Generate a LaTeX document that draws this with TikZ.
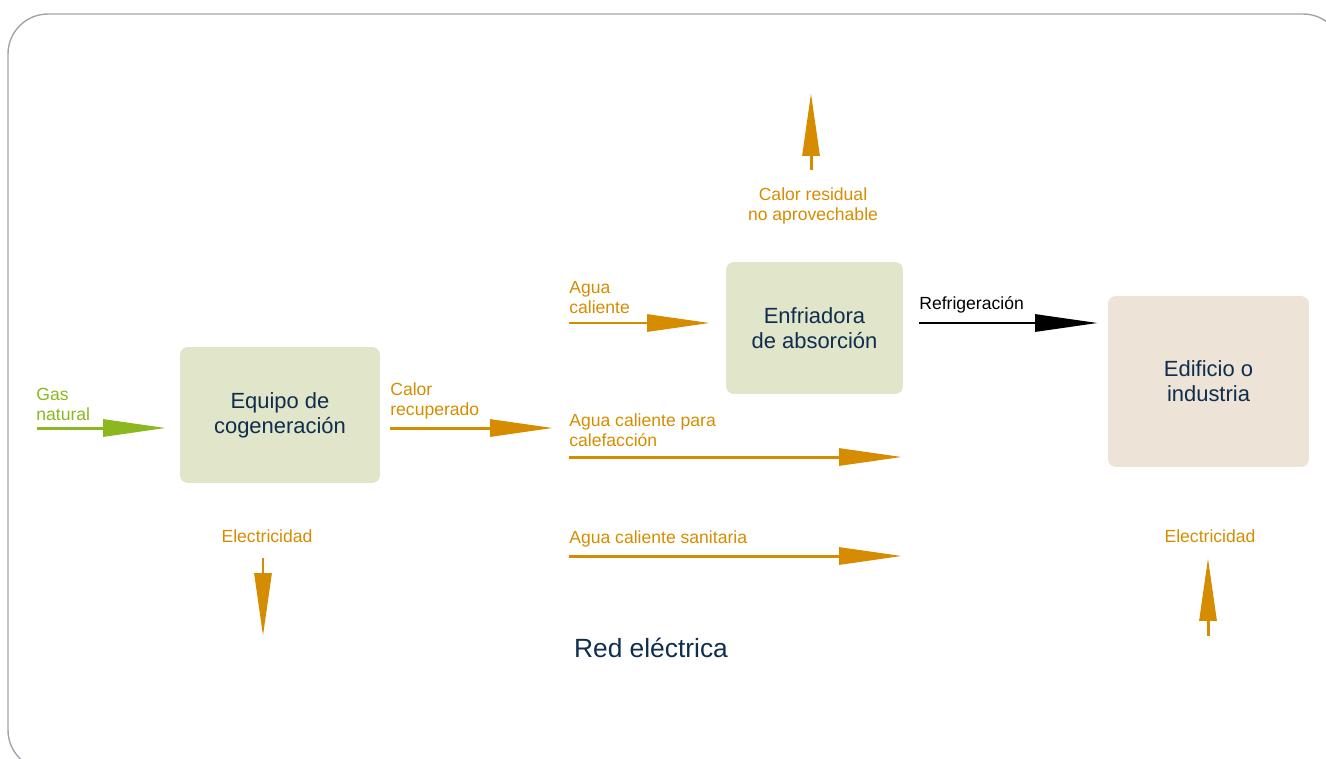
\documentclass[tikz,border=0pt]{standalone}
\usepackage{fontspec}
\setmainfont{Liberation Sans}
\usetikzlibrary{arrows.meta}
\definecolor{ocre}{RGB}{214,140,0}
\definecolor{verdegas}{RGB}{138,184,30}
\definecolor{verdecaja}{RGB}{225,229,201}
\definecolor{beigecaja}{RGB}{237,227,214}
\definecolor{azuloscuro}{RGB}{15,45,78}
\definecolor{grisborde}{RGB}{160,165,172}
\tikzset{
  caja/.style={
    rounded corners=4.5pt,
    fill=verdecaja,
    align=center,
    inner sep=0pt,
    text=azuloscuro,
    font=\fontsize{12.5}{14.2}\selectfont
  },
  etiqueta/.style={
    align=left,
    inner sep=0pt,
    text=ocre,
    font=\fontsize{10}{11.4}\selectfont
  },
  flecha/.style={
    -{Triangle[length=1.26cm,width=0.34cm]},
    line width=1.7pt,
    ocre
  }
}
\begin{document}
\begin{tikzpicture}[x=0.02cm,y=-0.02cm]
\useasboundingbox (0,0) rectangle (1326,758);
\begin{scope}
\clip (0,0) rectangle (1326,758);
\draw[grisborde, line width=0.8pt, rounded corners=0.8cm] (8,14) rectangle (1343,770);
\end{scope}
\node[caja, minimum width=4cm, minimum height=2.72cm] (cog) at (280,415) {Equipo de\\cogeneración};
\node[caja, minimum width=3.54cm, minimum height=2.64cm] (enf) at (814.5,328) {Enfriadora\\de absorción};
\node[caja, fill=beigecaja, minimum width=4.02cm, minimum height=3.42cm] (edif) at (1208.5,381.5) {Edificio o\\industria};
\node[etiqueta, text=verdegas, anchor=west] (gas) at (36,404) {Gas\\natural};
\node[etiqueta, anchor=west] (recup) at (390,401) {Calor\\recuperado};
\node[etiqueta, anchor=west] (aguaenf) at (569,298) {Agua\\caliente};
\node[etiqueta, anchor=west] (calef) at (569,430) {Agua caliente para\\calefacción};
\node[etiqueta, anchor=west] (sanit) at (569,539) {Agua caliente sanitaria};
\node[etiqueta, text=black, anchor=west] (refrig) at (919,305) {Refrigeración};
\node[etiqueta, align=center] (resid) at (813,206) {Calor residual\\no aprovechable};
\node[etiqueta] (elecizq) at (267,536) {Electricidad};
\node[etiqueta] (elecder) at (1210,536) {Electricidad};
\node[inner sep=0pt, text=azuloscuro, font=\fontsize{15}{18}\selectfont] (red) at (651,648) {Red eléctrica};
\coordinate (gasA) at (37,428);
\coordinate (gasB) at (166,428);
\coordinate (recA) at (390,428);
\coordinate (recB) at (553,428);
\coordinate (enfA) at (569,323);
\coordinate (enfB) at (710,323);
\coordinate (calA) at (569,457);
\coordinate (calB) at (902,457);
\coordinate (sanA) at (569,556);
\coordinate (sanB) at (902,556);
\coordinate (refA) at (919,323);
\coordinate (refB) at (1098,323);
\coordinate (resA) at (811,170);
\coordinate (resB) at (811,93);
\coordinate (eizA) at (263,558);
\coordinate (eizB) at (263,636);
\coordinate (edeA) at (1208,636);
\coordinate (edeB) at (1208,558);
\draw[flecha, verdegas] (gasA) -- (gasB);
\draw[flecha] (recA) -- (recB);
\draw[flecha] (enfA) -- (enfB);
\draw[flecha] (calA) -- (calB);
\draw[flecha] (sanA) -- (sanB);
\draw[flecha, black] (refA) -- (refB);
\draw[flecha] (resA) -- (resB);
\draw[flecha] (eizA) -- (eizB);
\draw[flecha] (edeA) -- (edeB);
\end{tikzpicture}
\end{document}
